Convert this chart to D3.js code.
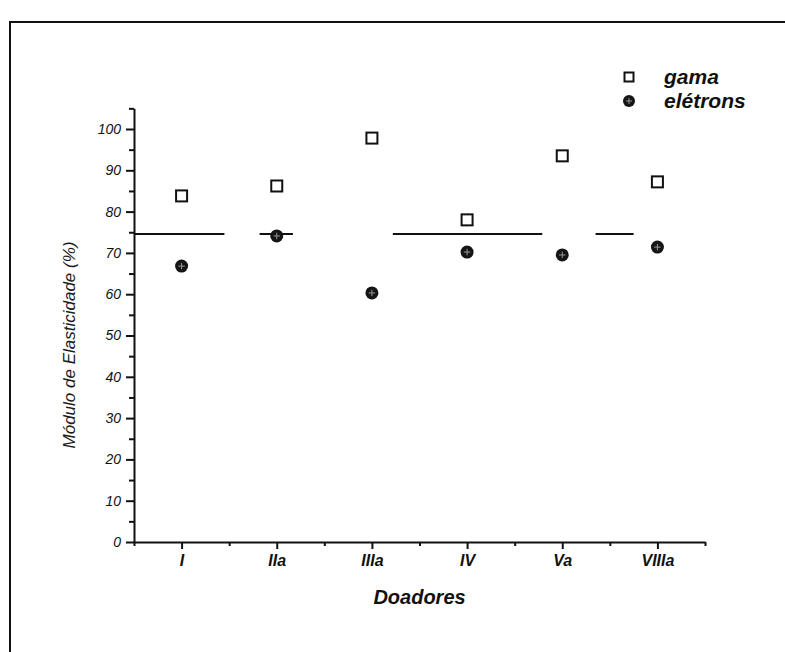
<!DOCTYPE html>
<html>
<head>
<meta charset="utf-8">
<script src="https://cdn.jsdelivr.net/npm/d3@7"></script>
<style>
  html, body { margin: 0; padding: 0; background: #fff; }
  svg { display: block; font-family: "Liberation Sans", Arial, sans-serif; }
  .axis path, .axis line { stroke: #111; }
</style>
</head>
<body>
<div id="chart"></div>
<script>
// donors (x categories)
var doadores = ["I", "IIa", "IIIa", "IV", "Va", "VIIIa"];
// elastic modulus (%) per donor
var gama = [83.8, 86.2, 97.8, 78.0, 93.5, 87.2];
var eletrons = [66.8, 74.1, 60.3, 70.2, 69.5, 71.4];
// horizontal reference line (value) and the pieces of it that survive in the scan
var linhaValor = 74.6;
var linhaTrechos = [[-0.5, 0.45], [0.82, 1.17], [2.22, 3.79], [4.35, 4.75]];
var yTicks = [0, 10, 20, 30, 40, 50, 60, 70, 80, 90, 100];
var yMinor = [5, 15, 25, 35, 45, 55, 65, 75, 85, 95, 105];

var W = 785, H = 652;
var svg = d3.select("#chart").append("svg")
  .attr("width", W).attr("height", H);

var x = d3.scaleLinear().domain([-0.5, 5.5]).range([134, 705]);
var y = d3.scaleLinear().domain([0, 100]).range([542, 129]);

// outer frame (left + top edges of the scanned page box)
svg.append("path")
  .attr("d", "M10," + H + "V22H" + W)
  .attr("fill", "none").attr("stroke", "#111").attr("stroke-width", 2);

// x axis
var xAxis = svg.append("g").attr("class", "axis")
  .attr("transform", "translate(0," + y(0) + ")")
  .call(d3.axisBottom(x)
    .tickValues(d3.range(doadores.length))
    .tickFormat(function(d) { return doadores[d]; })
    .tickSize(7).tickSizeOuter(0));
xAxis.select(".domain").attr("stroke-width", 2);
xAxis.selectAll(".tick line").attr("stroke-width", 2);
xAxis.selectAll(".tick text")
  .attr("y", 13)
  .style("font-size", "16px").style("font-weight", "bold").style("font-style", "italic")
  .attr("fill", "#111");

svg.append("g").attr("class", "axis")
  .attr("transform", "translate(0," + y(0) + ")")
  .call(d3.axisBottom(x)
    .tickValues(d3.range(-0.5, 5.6, 1))
    .tickFormat("").tickSize(4).tickSizeOuter(0))
  .call(function(g) { g.select(".domain").remove(); })
  .selectAll(".tick line").attr("stroke-width", 2);

// y axis
var yScaleAxis = y.copy().domain([0, 105]).range([y(0), y(105)]);
var yAxis = svg.append("g").attr("class", "axis")
  .attr("transform", "translate(" + x(-0.5) + ",0)")
  .call(d3.axisLeft(yScaleAxis)
    .tickValues(yTicks).tickSize(8).tickSizeOuter(0).tickPadding(5));
yAxis.select(".domain").attr("stroke-width", 2);
yAxis.selectAll(".tick line").attr("stroke-width", 2);
yAxis.selectAll(".tick text")
  .style("font-size", "14px").style("font-style", "italic")
  .attr("fill", "#111");

svg.append("g").attr("class", "axis")
  .attr("transform", "translate(" + x(-0.5) + ",0)")
  .call(d3.axisLeft(yScaleAxis).tickValues(yMinor).tickFormat("").tickSize(5).tickSizeOuter(0))
  .call(function(g) { g.select(".domain").remove(); })
  .selectAll(".tick line").attr("stroke-width", 2);

// axis titles
svg.append("text")
  .attr("x", x(2.5)).attr("y", 604)
  .attr("text-anchor", "middle")
  .style("font-size", "20px").style("font-weight", "bold").style("font-style", "italic")
  .attr("fill", "#111")
  .text("Doadores");

svg.append("text")
  .attr("transform", "translate(75,345) rotate(-90)")
  .attr("text-anchor", "middle")
  .style("font-size", "17px").style("font-style", "italic")
  .attr("fill", "#1a1a1a")
  .text("Módulo de Elasticidade (%)");

// reference line
svg.selectAll(".ref")
  .data(linhaTrechos)
  .enter().append("line")
  .attr("class", "ref")
  .attr("x1", function(d) { return x(d[0]); })
  .attr("x2", function(d) { return x(d[1]); })
  .attr("y1", y(linhaValor)).attr("y2", y(linhaValor))
  .attr("stroke", "#111").attr("stroke-width", 2);

// markers
var circulo = function(g, r) {
  g.append("circle").attr("r", r).attr("fill", "#151515");
  g.append("path")
    .attr("d", "M" + (-r / 2) + ",0H" + (r / 2) + "M0," + (-r / 2) + "V" + (r / 2))
    .attr("stroke", "#999").attr("stroke-width", 1);
};
var quadrado = function(g, s) {
  g.append("rect")
    .attr("x", -s / 2).attr("y", -s / 2).attr("width", s).attr("height", s)
    .attr("fill", "#fff").attr("stroke", "#111").attr("stroke-width", 2);
};

svg.selectAll(".gama")
  .data(gama)
  .enter().append("g")
  .attr("class", "gama")
  .attr("transform", function(d, i) { return "translate(" + x(i) + "," + y(d) + ")"; })
  .each(function() { quadrado(d3.select(this), 11); });

svg.selectAll(".eletrons")
  .data(eletrons)
  .enter().append("g")
  .attr("class", "eletrons")
  .attr("transform", function(d, i) { return "translate(" + x(i) + "," + y(d) + ")"; })
  .each(function() { circulo(d3.select(this), 6.5); });

// legend
var legend = svg.append("g").attr("transform", "translate(629,77)");
quadrado(legend.append("g"), 9);
legend.append("text").attr("x", 35).attr("y", 7)
  .style("font-size", "21px").style("font-weight", "bold").style("font-style", "italic")
  .attr("fill", "#111").text("gama");
var lg2 = legend.append("g").attr("transform", "translate(0,24)");
circulo(lg2, 6);
lg2.append("text").attr("x", 35).attr("y", 7)
  .style("font-size", "21px").style("font-weight", "bold").style("font-style", "italic")
  .attr("fill", "#111").text("elétrons");
</script>
</body>
</html>
